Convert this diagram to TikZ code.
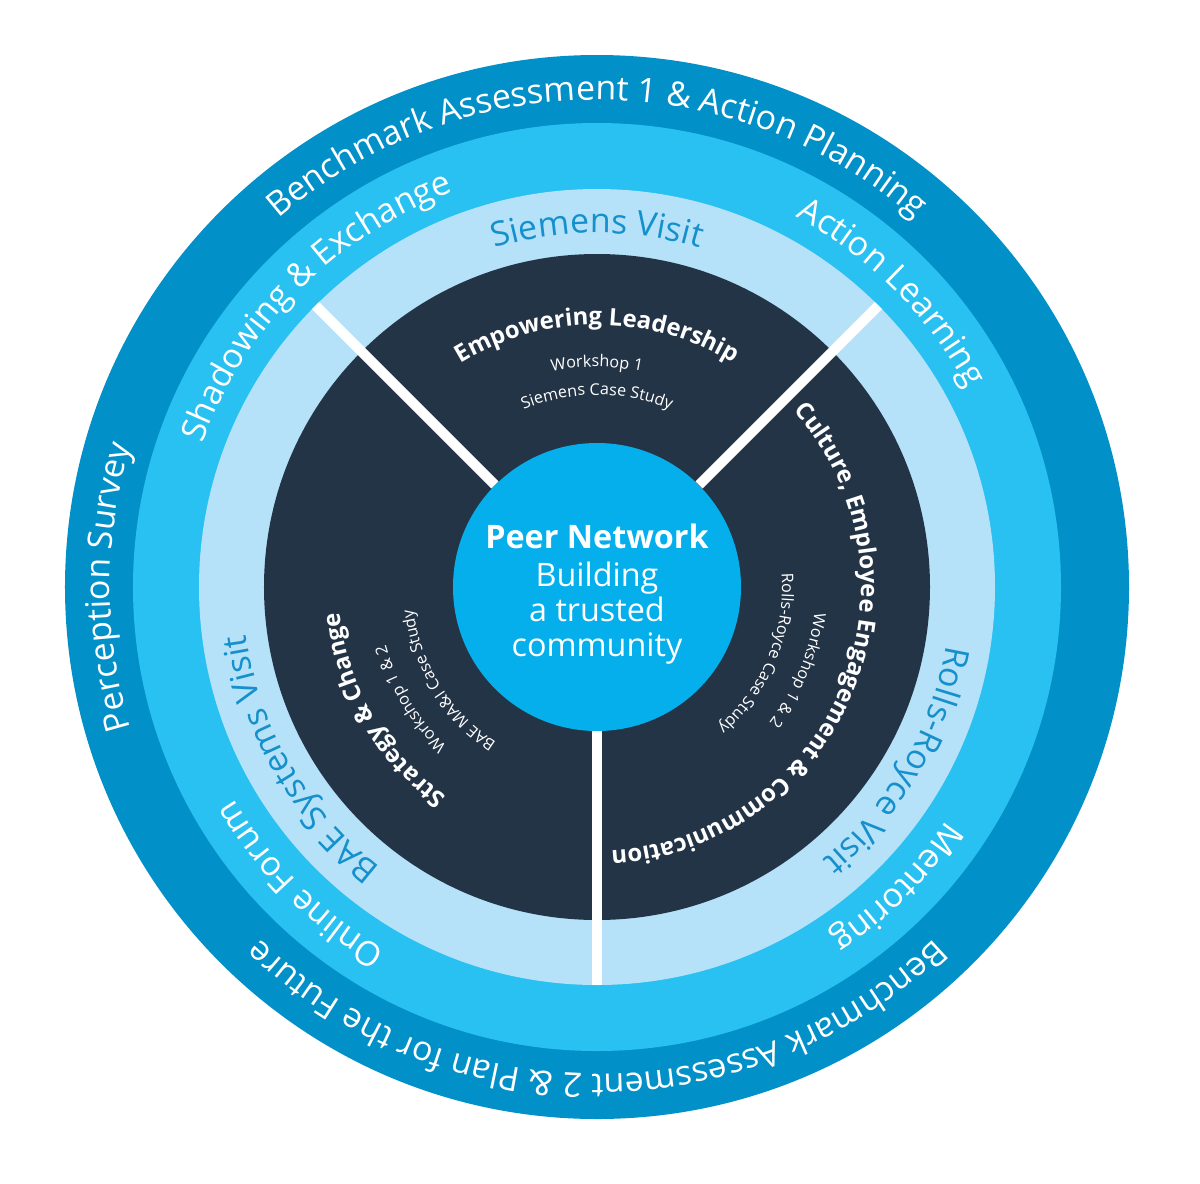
\documentclass[tikz,border=0pt]{standalone}
\usepackage{fontspec}
\setmainfont{Open Sans}
\usetikzlibrary{decorations.text}

\definecolor{ringdark}{HTML}{0290C9}
\definecolor{ringmid}{HTML}{29C1F1}
\definecolor{ringlight}{HTML}{B5E2F8}
\definecolor{navy}{HTML}{243447}
\definecolor{hubblue}{HTML}{05AFEB}
\definecolor{visitblue}{HTML}{1590CC}

\newcommand\ringfont{\fontsize{19.3}{23}\selectfont}
\newcommand\sectorfont{\bfseries\fontsize{13.6}{16}\selectfont}
\newcommand\notefont{\fontsize{9.2}{11}\selectfont}

% #1 baseline radius, #2 centre angle, #3 colour, #4 font, #5 text
\newcommand\arclabel[5]{%
  \path[decorate, decoration={text along path, text align=center,
      text color=#3, text={|#4|#5}}]
    (#2+80:#1) arc[start angle=#2+80, end angle=#2-80, radius=#1];}

\begin{document}
\begin{tikzpicture}[x=0.2mm, y=0.2mm]
  \tikzstyle{hub}=[circle, fill=hubblue, minimum size=57.6mm, inner sep=0pt,
    text=white, align=center, font=\fontsize{18.4}{19.8}\selectfont]
  \tikzstyle{divider}=[white, line width=2mm]
  \useasboundingbox (-597,-596) rectangle (603,587);

  % rings, outside in
  \fill[ringdark] (0,0) circle[radius=532];
  \fill[ringmid] (0,0) circle[radius=464];
  \fill[ringlight] (0,0) circle[radius=398];
  \fill[navy] (0,0) circle[radius=333];

  \node[hub] (hub) at (0,0) {\rule{0pt}{7.7mm}\textbf{Peer Network}\\[0.8mm]Building\\a trusted\\community};

  \foreach \a in {45,135,270}
    \draw[divider] (hub.\a) -- (\a:398);

  % outer ring
  \arclabel{487}{90}{white}{\ringfont}{Benchmark Assessment 1 {\&} Action Planning}
  \arclabel{487}{180}{white}{\ringfont}{Perception Survey}
  \arclabel{487}{270}{white}{\ringfont}{Benchmark Assessment 2 {\&} Plan for the Future}

  % middle ring
  \arclabel{420}{135}{white}{\ringfont}{Shadowing {\&} Exchange}
  \arclabel{420}{45}{white}{\ringfont}{Action Learning}
  \arclabel{420}{-45}{white}{\ringfont}{Mentoring}
  \arclabel{420}{225}{white}{\ringfont}{Online Forum}

  % visits
  \arclabel{354}{90}{visitblue}{\ringfont}{Siemens Visit}
  \arclabel{354}{-30}{visitblue}{\ringfont}{Rolls-Royce Visit}
  \arclabel{354}{210}{visitblue}{\ringfont}{BAE Systems Visit}

  % sectors
  \arclabel{262}{90}{white}{\sectorfont}{Empowering Leadership}
  \arclabel{220}{90}{white}{\notefont}{Workshop 1}
  \arclabel{192}{90}{white}{\notefont}{Siemens Case Study}

  \arclabel{264}{-22.5}{white}{\sectorfont}{Culture, Employee Engagement {\&} Communication}
  \arclabel{219}{-22.5}{white}{\notefont}{Workshop 1 {\&} 2}
  \arclabel{185}{-22.5}{white}{\notefont}{Rolls-Royce Case Study}

  \arclabel{258}{210}{white}{\sectorfont}{Strategy {\&} Change}
  \arclabel{219}{211}{white}{\notefont}{Workshop 1 {\&} 2}
  \arclabel{185}{212}{white}{\notefont}{BAE MA{\&}I Case Study}
\end{tikzpicture}
\end{document}
